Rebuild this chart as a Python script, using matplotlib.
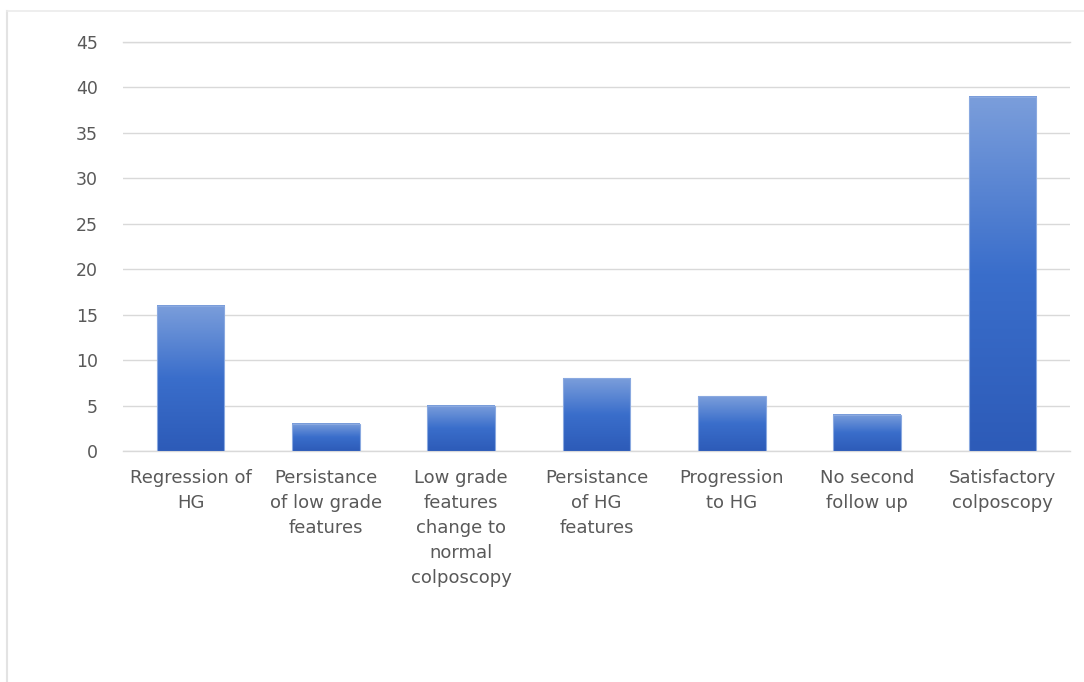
import matplotlib.pyplot as plt
import numpy as np
from matplotlib.colors import LinearSegmentedColormap
from matplotlib.lines import Line2D

# categories and counts
categories = ["Regression of\nHG", "Persistance\nof low grade\nfeatures",
              "Low grade\nfeatures\nchange to\nnormal\ncolposcopy",
              "Persistance\nof HG\nfeatures", "Progression\nto HG",
              "No second\nfollow up", "Satisfactory\ncolposcopy"]
counts = [16, 3, 5, 8, 6, 4, 39]
yticks = [0, 5, 10, 15, 20, 25, 30, 35, 40, 45]

plt.rcParams['font.family'] = ['DejaVu Sans']
text_col = "#595959"
grid_col = "#D9D9D9"

fig = plt.figure(figsize=(10.84, 6.82), dpi=100)
ax = fig.add_axes([123/1084, 1-451/682, (1070-123)/1084, (451-42)/682])

# vertical gradient per bar, light on top, darker at bottom
cmap = LinearSegmentedColormap.from_list("bar", ["#2D5BB8", "#3A6ECB", "#7B9EDB"])
grad = np.linspace(0, 1, 256).reshape(-1, 1)
w = 0.5
x = np.arange(len(categories))
for xi, h in zip(x, counts):
	ax.imshow(grad, extent=(xi-w/2, xi+w/2, 0, h), origin='lower', cmap=cmap,
		aspect='auto', zorder=3, interpolation='bilinear')
	ax.add_patch(plt.Rectangle((xi-w/2, 0), w, h, fill=False, edgecolor="#8AA9E0", lw=0.8, zorder=4))

ax.set_xlim(-0.5, len(categories)-0.5)
ax.set_ylim(0, 45)
ax.set_yticks(yticks)
ax.set_xticks(x)
ax.set_xticklabels(categories, fontsize=13, color=text_col, linespacing=1.5)
ax.tick_params(axis='y', length=0, pad=18, labelsize=12.5, labelcolor=text_col)
ax.tick_params(axis='x', length=0, pad=13)
ax.yaxis.grid(True, color=grid_col, lw=1)
for yv in (0, 45):
	ax.axhline(yv, color=grid_col, lw=1, clip_on=False, zorder=2)
ax.set_axisbelow(True)
for s in ax.spines.values():
	s.set_visible(False)

# faint frame of the chart area (left and top edges visible)
fig.add_artist(Line2D([7/1084, 7/1084], [0, 1-11/682], color="#E3E3E3", lw=1.5, transform=fig.transFigure))
fig.add_artist(Line2D([7/1084, 1], [1-11/682, 1-11/682], color="#EBEBEB", lw=1.2, transform=fig.transFigure))

fig.savefig("out.png", dpi=100)
